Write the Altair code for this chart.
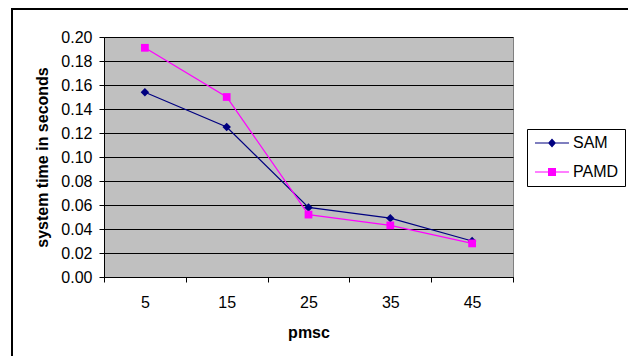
import altair as alt
import pandas as pd

pmsc = [5, 15, 25, 35, 45]
sam = [0.154, 0.125, 0.058, 0.049, 0.030]
pamd = [0.191, 0.150, 0.052, 0.043, 0.028]
series_names = ["SAM", "PAMD"]
series_colors = ["#000080", "#FF00FF"]
x_tick_values = [0, 5, 10, 15, 20, 25, 30, 35, 40, 45, 50]
y_tick_values = [0.0, 0.02, 0.04, 0.06, 0.08, 0.10, 0.12, 0.14, 0.16, 0.18, 0.20]

rows = []
for name, vals in zip(series_names, [sam, pamd]):
    for p, v in zip(pmsc, vals):
        rows.append({"pmsc": p, "time": v, "series": name})
df = pd.DataFrame(rows)

FONT = "Liberation Sans"

x_enc = alt.X(
    "pmsc:Q",
    scale=alt.Scale(domain=[0, 50], nice=False, zero=False),
    axis=alt.Axis(
        title="pmsc",
        values=x_tick_values,
        tickCount=len(x_tick_values),
        grid=False,
        tickSize=5,
        tickOpacity={"condition": {"test": "datum.value % 10 === 0", "value": 1}, "value": 0},
        labelExpr="datum.value % 10 === 5 ? datum.label : ''",
        labelOverlap=False,
        labelPadding=12,
        titlePadding=14,
    ),
)
y_enc = alt.Y(
    "time:Q",
    scale=alt.Scale(domain=[0, 0.2], nice=False),
    axis=alt.Axis(
        title="system time in seconds",
        values=y_tick_values,
        tickCount=len(y_tick_values),
        format=".2f",
        grid=True,
        gridColor="black",
        gridWidth=1,
        tickSize=5,
        labelOverlap=False,
        labelPadding=7,
        titlePadding=10,
    ),
)

base = alt.Chart(df)

sam_data = base.transform_filter(alt.datum.series == "SAM")
pamd_data = base.transform_filter(alt.datum.series == "PAMD")

sam_line = sam_data.mark_line(strokeWidth=1.2, color=series_colors[0]).encode(x=x_enc, y=y_enc)
pamd_line = pamd_data.mark_line(strokeWidth=1.2, color=series_colors[1]).encode(x="pmsc:Q", y="time:Q")

sam_pts = sam_data.mark_point(
    shape="diamond", filled=True, size=72, opacity=1, color=series_colors[0]
).encode(x="pmsc:Q", y="time:Q")

pamd_pts = pamd_data.mark_point(
    shape="square", filled=True, size=60, opacity=1, color=series_colors[1]
).encode(x="pmsc:Q", y="time:Q")

sam_path = "M-2.833,-0.1H2.833V0.1H-2.833Z M0,-0.75L0.667,0L0,0.75L-0.667,0Z"
pamd_path = "M-2.833,-0.1H2.833V0.1H-2.833Z M-0.667,-0.667H0.667V0.667H-0.667Z"

legend_props = dict(
    title=None,
    orient="none",
    legendX=423,
    legendY=92,
    strokeColor="black",
    fillColor="white",
    padding=6,
    symbolOpacity=1,
    symbolStrokeWidth=0,
    symbolSize=144,
    symbolOffset=11,
    labelOffset=13,
    labelFont=FONT,
    labelFontSize=16,
    labelColor="black",
    rowPadding=13,
)

legend_layer = base.mark_point(filled=True, opacity=0, size=144).encode(
    x="pmsc:Q",
    y="time:Q",
    color=alt.Color(
        "series:N",
        scale=alt.Scale(domain=series_names, range=series_colors),
        legend=alt.Legend(**legend_props),
    ),
    shape=alt.Shape(
        "series:N",
        scale=alt.Scale(domain=series_names, range=[sam_path, pamd_path]),
        legend=alt.Legend(**legend_props),
    ),
)

one = alt.Data(values=[{"a": 1}])
border_v = alt.Chart(one).mark_rule(color="black", strokeWidth=2).encode(
    x=alt.value(-92), y=alt.value(-28), y2=alt.value(330)
)
border_h = alt.Chart(one).mark_rule(color="black", strokeWidth=2).encode(
    x=alt.value(-93), x2=alt.value(530), y=alt.value(-28)
)

chart = alt.layer(
    sam_line, pamd_line, sam_pts, pamd_pts, legend_layer, border_v, border_h
).properties(
    width=409,
    height=240,
    autosize=alt.AutoSizeParams(type="none"),
    padding={"left": 104, "top": 37, "right": 115, "bottom": 79},
    background="white",
).configure_view(
    fill="#C0C0C0", stroke="#808080", strokeWidth=1
).configure_axis(
    labelFont=FONT,
    labelFontSize=16,
    labelColor="black",
    titleFont=FONT,
    titleFontSize=16,
    titleFontWeight="bold",
    titleColor="black",
    domainColor="black",
    domainWidth=1,
    tickColor="black",
    tickWidth=1,
)

chart.save("out.html", embed_options={"renderer": "svg", "actions": False})
